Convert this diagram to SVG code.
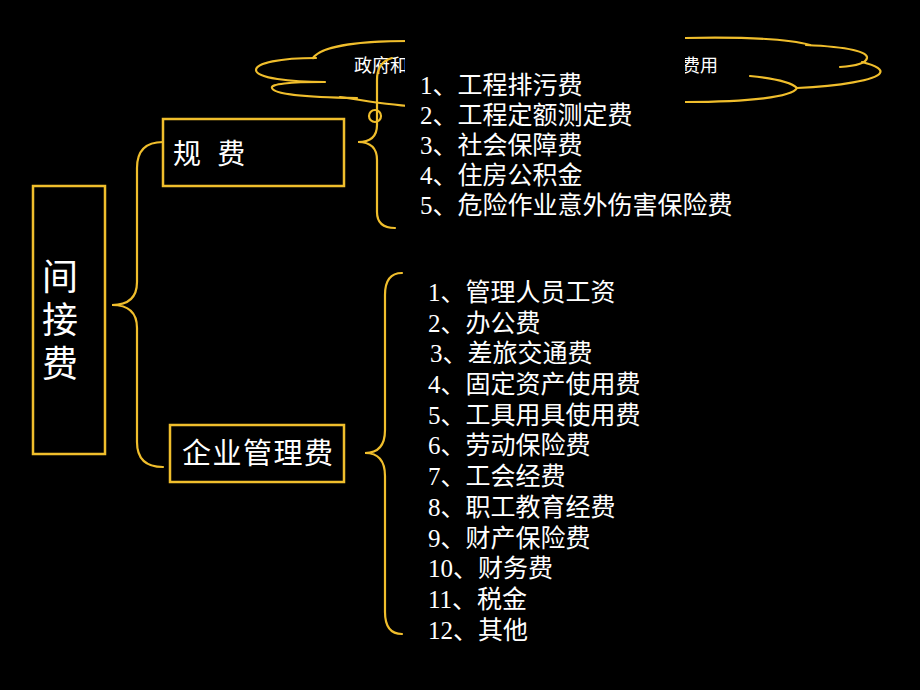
<svg xmlns="http://www.w3.org/2000/svg" width="920" height="690" viewBox="0 0 920 690">
<style>
.ln{fill:none;stroke:#F0BE2C;stroke-width:2.2;stroke-linecap:round}
.box{fill:#000;stroke:#F0BE2C;stroke-width:2.5}
.t{fill:#fff;font-family:"Liberation Serif","Noto Sans CJK SC",serif;font-size:25px}
.bt{fill:#fff;font-family:"Noto Sans CJK SC",sans-serif}
.ct{fill:#fff;font-family:"Noto Sans CJK SC",sans-serif;font-size:18px}
</style>
<rect x="0" y="0" width="920" height="690" fill="#000"/>
<g id="cloud">
<path class="ln" d="M408,41 C365,41 322,45 313,58"/>
<path class="ln" d="M316,58 C280,58 256,63 256,70 C256,78 290,82 325,82"/>
<path class="ln" d="M323,82 C290,82 270,84 272,88 C274,94 300,97 357,98"/>
<path class="ln" d="M340,97 C365,101 385,104 408,106"/>
<path class="ln" d="M685,38 C740,37 790,39 810,45"/>
<path class="ln" d="M806,45 C850,47 868,52 867,58 C866,63 855,66 840,67"/>
<path class="ln" d="M862,62 C878,66 882,70 880,73 C876,80 840,86 797,88"/>
<path class="ln" d="M750,76 C780,79 793,84 797,88 C792,97 750,102 685,102"/>
<line x1="622" y1="33" x2="655" y2="33" stroke="#8A6A22" stroke-width="1.2"/>
<text class="ct" x="354" y="72">政府和</text>
<text class="ct" x="682" y="72">费用</text>
<circle class="ln" cx="291" cy="135" r="3"/>
<circle class="ln" cx="331" cy="126" r="5"/>
<circle class="ln" cx="375" cy="116" r="6"/>
</g>
<rect x="405" y="28" width="280" height="200" fill="#000"/>
<g id="connectors">
<path class="ln" d="M163,142 Q137,142 137,168 L137,282 Q137,305 112,305 Q137,305 137,328 L137,442 Q137,467 163,467"/>
<path class="ln" d="M392,58 Q377,62 377,80 L377,125 Q377,142 358,142 Q377,142 377,160 L377,212 Q377,228 395,228"/>
<path class="ln" d="M402,273 Q385,273 385,295 L385,430 Q385,453 365,453 Q385,453 385,476 L385,612 Q385,634 402,634"/>
</g>
<g id="jianjiefei">
<rect class="box" x="33" y="186" width="72" height="268"/>
<text class="bt" font-size="36" x="60" y="258" writing-mode="vertical-rl" letter-spacing="7.5">间接费</text>
</g>
<g id="guifei">
<rect class="box" x="163" y="119" width="181" height="67"/>
<text class="bt" font-size="28" x="173" y="164" word-spacing="10">规 费</text>
</g>
<g id="qiyeguanlifei">
<rect class="box" x="170" y="425" width="174" height="57"/>
<text class="bt" font-size="29" x="182" y="464" letter-spacing="1.5">企业管理费</text>
</g>
<g id="guifei-list">
<text class="t" x="420" y="94">1、工程排污费</text>
<text class="t" x="420" y="124">2、工程定额测定费</text>
<text class="t" x="420" y="154">3、社会保障费</text>
<text class="t" x="420" y="184">4、住房公积金</text>
<text class="t" x="420" y="214">5、危险作业意外伤害保险费</text>
</g>
<g id="qiye-list">
<text class="t" x="428" y="301">1、管理人员工资</text>
<text class="t" x="428" y="332">2、办公费</text>
<text class="t" x="430" y="362">3、差旅交通费</text>
<text class="t" x="428" y="393">4、固定资产使用费</text>
<text class="t" x="428" y="424">5、工具用具使用费</text>
<text class="t" x="428" y="454">6、劳动保险费</text>
<text class="t" x="428" y="485">7、工会经费</text>
<text class="t" x="428" y="516">8、职工教育经费</text>
<text class="t" x="428" y="547">9、财产保险费</text>
<text class="t" x="428" y="577">10、财务费</text>
<text class="t" x="428" y="608">11、税金</text>
<text class="t" x="428" y="639">12、其他</text>
</g>
</svg>
